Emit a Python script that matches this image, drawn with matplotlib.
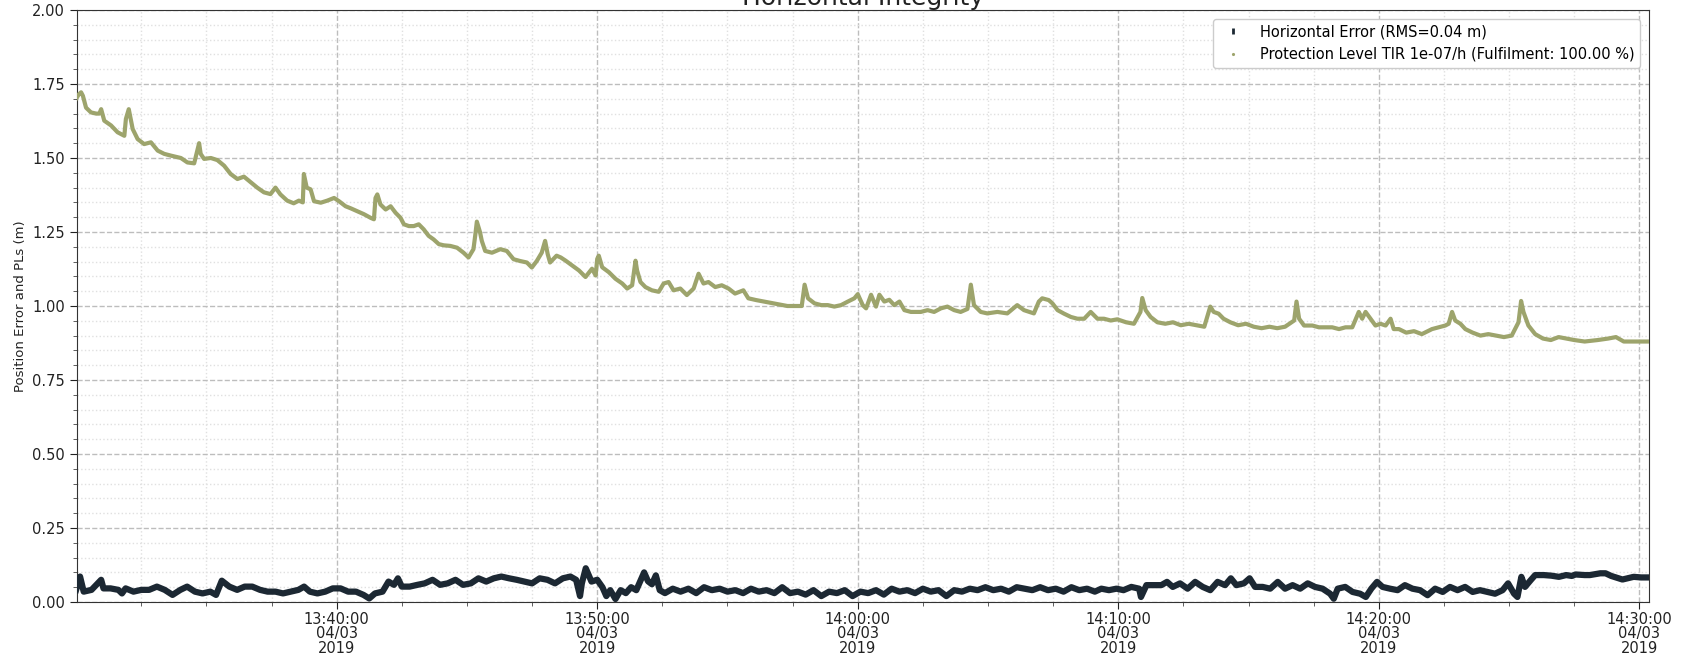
import datetime as dt
import numpy as np
import pandas as pd
import matplotlib
matplotlib.use("Agg")
import matplotlib.pyplot as plt
import matplotlib.dates as mdates
from matplotlib.ticker import MultipleLocator, AutoMinorLocator
from matplotlib.lines import Line2D

# minutes after 13:30:00 on 04/03/2019
pl_min = [0.00, 0.10, 0.19, 0.26, 0.38, 0.57, 0.77, 0.89, 0.96, 1.08, 1.34, 1.59, 1.85, 1.91,
          2.02, 2.17, 2.36, 2.61, 2.87, 3.13, 3.38, 3.64, 4.02, 4.27, 4.53, 4.72, 4.78, 4.91,
          5.17, 5.42, 5.68, 5.93, 6.19, 6.44, 6.70, 6.95, 7.21, 7.46, 7.65, 7.84, 8.10, 8.35,
          8.55, 8.70, 8.74, 8.85, 9.00, 9.13, 9.39, 9.64, 9.90, 10.09, 10.34, 10.54, 10.79,
          11.05, 11.30, 11.43, 11.49, 11.56, 11.68, 11.88, 12.07, 12.26, 12.45, 12.58, 12.77,
          12.96, 13.15, 13.34, 13.53, 13.72, 13.92, 14.11, 14.36, 14.62, 14.87, 15.06, 15.25,
          15.32, 15.38, 15.50, 15.57, 15.70, 15.96, 16.28, 16.53, 16.79, 17.04, 17.30, 17.49,
          17.68, 17.87, 18.00, 18.10, 18.19, 18.44, 18.60, 18.79, 19.04, 19.30, 19.55, 19.80,
          19.94, 20.00, 20.06, 20.19, 20.45, 20.70, 20.96, 21.15, 21.34, 21.47, 21.53, 21.66,
          21.85, 22.10, 22.36, 22.55, 22.74, 22.93, 23.19, 23.44, 23.70, 23.89, 24.08, 24.27,
          24.53, 24.78, 25.04, 25.29, 25.61, 25.80, 26.10, 26.40, 26.70, 27.00, 27.30, 27.60,
          27.85, 27.96, 28.09, 28.34, 28.60, 28.85, 29.10, 29.36, 29.62, 29.87, 30.00, 30.19,
          30.32, 30.51, 30.70, 30.83, 31.02, 31.21, 31.40, 31.60, 31.79, 32.04, 32.42, 32.68,
          32.93, 33.19, 33.44, 33.70, 33.95, 34.21, 34.34, 34.46, 34.72, 34.97, 35.36, 35.74,
          36.12, 36.38, 36.76, 36.95, 37.08, 37.33, 37.47, 37.67, 37.92, 38.18, 38.43, 38.69,
          38.94, 39.20, 39.45, 39.71, 39.96, 40.30, 40.60, 40.85, 40.92, 41.05, 41.24, 41.50,
          41.80, 42.10, 42.40, 42.70, 43.00, 43.30, 43.53, 43.66, 43.85, 44.04, 44.30, 44.60,
          44.90, 45.20, 45.50, 45.80, 46.10, 46.40, 46.75, 46.84, 46.94, 47.13, 47.45, 47.70,
          47.96, 48.21, 48.47, 48.72, 48.98, 49.23, 49.36, 49.49, 49.68, 49.87, 50.06, 50.26,
          50.45, 50.57, 50.77, 51.05, 51.35, 51.65, 52.04, 52.30, 52.55, 52.68, 52.81, 52.93,
          53.13, 53.32, 53.60, 53.90, 54.20, 54.50, 54.80, 55.10, 55.36, 55.46, 55.55, 55.74,
          56.00, 56.30, 56.60, 56.90, 57.20, 57.50, 57.90, 58.40, 58.80, 59.10, 59.40, 59.80,
          60.30]
pl_val = [1.700, 1.715, 1.722, 1.710, 1.670, 1.654, 1.650, 1.650, 1.665, 1.626, 1.610, 1.587, 1.575, 1.632,
          1.665, 1.598, 1.564, 1.547, 1.553, 1.525, 1.514, 1.508, 1.500, 1.485, 1.482, 1.550, 1.514, 1.497,
          1.500, 1.493, 1.474, 1.446, 1.429, 1.437, 1.418, 1.400, 1.384, 1.378, 1.400, 1.377, 1.356, 1.347,
          1.356, 1.350, 1.446, 1.400, 1.394, 1.354, 1.349, 1.356, 1.365, 1.354, 1.337, 1.330, 1.320,
          1.310, 1.298, 1.293, 1.365, 1.377, 1.343, 1.326, 1.337, 1.315, 1.298, 1.276, 1.270,
          1.270, 1.276, 1.259, 1.237, 1.225, 1.209, 1.205, 1.203, 1.197, 1.180, 1.164, 1.192,
          1.240, 1.285, 1.250, 1.220, 1.186, 1.180, 1.192, 1.186, 1.158, 1.152, 1.147, 1.130,
          1.152, 1.180, 1.220, 1.175, 1.147, 1.170, 1.164, 1.153, 1.137, 1.120, 1.098, 1.126,
          1.103, 1.159, 1.170, 1.131, 1.114, 1.092, 1.076, 1.059, 1.070, 1.153, 1.120, 1.081,
          1.064, 1.053, 1.048, 1.076, 1.081, 1.053, 1.059, 1.037, 1.059, 1.109, 1.076, 1.081,
          1.064, 1.070, 1.059, 1.042, 1.053, 1.026, 1.020, 1.015, 1.010, 1.005, 1.000, 1.000,
          1.000, 1.072, 1.026, 1.009, 1.003, 1.003, 0.998, 1.003, 1.015, 1.026, 1.040, 1.003,
          0.992, 1.038, 0.998, 1.038, 1.015, 1.021, 1.003, 1.015, 0.986, 0.980, 0.980, 0.986,
          0.980, 0.992, 0.998, 0.986, 0.980, 0.990, 1.072, 1.003, 0.980, 0.975, 0.980, 0.975,
          1.003, 0.986, 0.975, 1.015, 1.026, 1.020, 1.009, 0.986, 0.974, 0.963, 0.957, 0.957,
          0.980, 0.957, 0.957, 0.951, 0.955, 0.945, 0.940, 0.980, 1.027, 0.986, 0.963, 0.945,
          0.940, 0.945, 0.935, 0.940, 0.935, 0.930, 0.998, 0.980, 0.974, 0.957, 0.945, 0.935,
          0.940, 0.930, 0.925, 0.930, 0.925, 0.930, 0.951, 1.015, 0.957, 0.934, 0.934, 0.928,
          0.928, 0.928, 0.922, 0.928, 0.928, 0.980, 0.957, 0.980, 0.957, 0.934, 0.940, 0.934,
          0.957, 0.922, 0.922, 0.910, 0.915, 0.905, 0.922, 0.928, 0.934, 0.940, 0.980, 0.951,
          0.940, 0.922, 0.910, 0.900, 0.905, 0.900, 0.895, 0.900, 0.945, 1.017, 0.980, 0.934,
          0.905, 0.890, 0.885, 0.895, 0.890, 0.885, 0.880, 0.885, 0.890, 0.895, 0.880, 0.880,
          0.880]

err_min = [0.00, 0.15, 0.29, 0.59, 0.96, 1.05, 1.32, 1.62, 1.76, 1.90, 2.20, 2.50, 2.80, 3.10,
           3.40, 3.70, 4.00, 4.26, 4.56, 4.85, 5.15, 5.37, 5.59, 5.88, 6.18, 6.47, 6.76, 7.06,
           7.35, 7.65, 7.94, 8.24, 8.53, 8.75, 8.97, 9.26, 9.56, 9.85, 10.15, 10.44, 10.74,
           11.03, 11.25, 11.47, 11.76, 11.99, 12.20, 12.35, 12.50, 12.80, 13.10, 13.38, 13.68,
           13.97, 14.26, 14.56, 14.85, 15.15, 15.44, 15.74, 16.03, 16.32, 16.62, 16.91, 17.20,
           17.50, 17.79, 18.09, 18.38, 18.68, 18.97, 19.19, 19.34, 19.41, 19.56, 19.78, 20.00,
           20.20, 20.35, 20.50, 20.70, 20.90, 21.10, 21.30, 21.50, 21.70, 21.80, 21.95, 22.10,
           22.25, 22.40, 22.60, 22.90, 23.20, 23.50, 23.80, 24.10, 24.40, 24.70, 25.00, 25.30,
           25.60, 25.90, 26.20, 26.50, 26.80, 27.10, 27.40, 27.70, 28.00, 28.30, 28.60, 28.90,
           29.20, 29.50, 29.80, 30.10, 30.40, 30.70, 31.00, 31.30, 31.60, 31.90, 32.20, 32.50,
           32.80, 33.10, 33.40, 33.70, 34.00, 34.30, 34.60, 34.90, 35.20, 35.50, 35.80, 36.10,
           36.40, 36.70, 37.00, 37.30, 37.60, 37.90, 38.20, 38.50, 38.80, 39.10, 39.35, 39.64,
           39.93, 40.20, 40.50, 40.80, 40.87, 41.08, 41.37, 41.65, 41.87, 42.09, 42.37, 42.66,
           42.95, 43.24, 43.53, 43.81, 44.10, 44.32, 44.53, 44.82, 45.04, 45.25, 45.54, 45.83,
           46.12, 46.40, 46.69, 46.98, 47.27, 47.55, 47.84, 48.13, 48.27, 48.42, 48.71, 48.99,
           49.28, 49.50, 49.71, 49.93, 50.14, 50.43, 50.72, 51.00, 51.29, 51.58, 51.87, 52.16,
           52.45, 52.73, 53.02, 53.31, 53.60, 53.88, 54.17, 54.46, 54.75, 54.96, 55.19, 55.32,
           55.47, 55.61, 55.83, 56.00, 56.33, 56.62, 56.91, 57.19, 57.41, 57.55, 57.90, 58.10,
           58.50, 58.70, 58.92, 59.20, 59.35, 59.78, 60.07, 60.36]
err_val = [0.041, 0.086, 0.035, 0.041, 0.075, 0.046, 0.046, 0.041, 0.029, 0.046, 0.035, 0.041, 0.041, 0.052,
           0.041, 0.024, 0.041, 0.052, 0.035, 0.029, 0.035, 0.024, 0.072, 0.052, 0.041, 0.052, 0.052, 0.041,
           0.035, 0.035, 0.029, 0.035, 0.041, 0.052, 0.035, 0.029, 0.035, 0.046, 0.046, 0.035, 0.035,
           0.024, 0.012, 0.029, 0.035, 0.069, 0.058, 0.080, 0.052, 0.052, 0.058, 0.063, 0.075,
           0.058, 0.063, 0.075, 0.058, 0.063, 0.080, 0.069, 0.080, 0.086, 0.080, 0.075, 0.069,
           0.063, 0.080, 0.075, 0.063, 0.080, 0.086, 0.075, 0.020, 0.063, 0.114, 0.069, 0.075,
           0.050, 0.020, 0.040, 0.010, 0.040, 0.030, 0.050, 0.040, 0.080, 0.100, 0.070, 0.060,
           0.090, 0.040, 0.030, 0.045, 0.035, 0.045, 0.030, 0.050, 0.040, 0.045, 0.035, 0.040,
           0.030, 0.045, 0.035, 0.040, 0.030, 0.050, 0.030, 0.035, 0.025, 0.040, 0.020, 0.035,
           0.030, 0.040, 0.020, 0.035, 0.030, 0.040, 0.025, 0.045, 0.035, 0.040, 0.030, 0.045,
           0.035, 0.040, 0.020, 0.040, 0.035, 0.045, 0.040, 0.050, 0.040, 0.045, 0.035, 0.050,
           0.045, 0.040, 0.050, 0.040, 0.045, 0.035, 0.050, 0.040, 0.045, 0.035, 0.045, 0.040,
           0.045, 0.040, 0.051, 0.045, 0.017, 0.057, 0.057, 0.057, 0.068, 0.051, 0.063, 0.045,
           0.068, 0.051, 0.040, 0.068, 0.057, 0.080, 0.057, 0.063, 0.080, 0.051, 0.051, 0.045,
           0.068, 0.045, 0.057, 0.045, 0.063, 0.051, 0.045, 0.028, 0.011, 0.045, 0.051, 0.034,
           0.028, 0.017, 0.045, 0.068, 0.051, 0.045, 0.040, 0.057, 0.045, 0.040, 0.023, 0.045,
           0.034, 0.051, 0.040, 0.051, 0.034, 0.040, 0.034, 0.028, 0.040, 0.063, 0.028, 0.017,
           0.085, 0.051, 0.074, 0.091, 0.091, 0.089, 0.085, 0.091, 0.088, 0.093, 0.091, 0.091,
           0.097, 0.097, 0.088, 0.080, 0.076, 0.085, 0.083, 0.083]

start = dt.datetime(2019, 3, 4, 13, 30, 2)
end = dt.datetime(2019, 3, 4, 14, 30, 22)
t0 = dt.datetime(2019, 3, 4, 13, 30, 0)

pl_t = t0 + pd.to_timedelta(pl_min, unit="m")
err_t = t0 + pd.to_timedelta(err_min, unit="m")

col_err = "#1c2833"
col_pl = "#9da46c"

fig = plt.figure(figsize=(16.85, 6.58), dpi=100)
ax = fig.add_axes([0.0457, 0.0851, 0.9329, 0.8997])

ax.plot(err_t, err_val, color=col_err, lw=4.5, zorder=3)
ax.plot(pl_t, pl_val, color=col_pl, lw=3.0, zorder=3)

ax.set_xlim(start, end)
ax.set_ylim(0, 2.0)

ax.xaxis.set_major_locator(mdates.MinuteLocator(byminute=[0, 10, 20, 30, 40, 50]))
ax.xaxis.set_minor_locator(AutoMinorLocator(4))
ax.xaxis.set_major_formatter(mdates.DateFormatter("%H:%M:%S\n%d/%m\n%Y"))
ax.yaxis.set_major_locator(MultipleLocator(0.25))
ax.yaxis.set_minor_locator(MultipleLocator(0.05))
ax.yaxis.set_major_formatter(plt.FormatStrFormatter("%.2f"))

ax.grid(which="major", ls="--", color="#bdbdbd", lw=1.0)
ax.grid(which="minor", ls=":", color="#e0e0e0", lw=1.0)
ax.set_axisbelow(True)

ax.tick_params(which="major", direction="out", length=5, labelsize=10.5, colors="#222222")
ax.tick_params(axis="x", which="major", pad=2)
ax.tick_params(which="minor", direction="out", length=3, colors="#444444")
for tk in ax.xaxis.get_major_ticks():
    tk.label1.set_linespacing(0.95)
    tk.label1.set_horizontalalignment("center")
for s in ax.spines.values():
    s.set_color("#333333")

ax.set_ylabel("Position Error and PLs (m)", fontsize=9.5, color="#222222")

fig.text(0.512, 0.992, "Horizontal Integrity", ha="center", va="baseline",
         fontsize=18, color="#222222")

handles = [Line2D([], [], ls="none", marker="|", ms=5, mew=2, color=col_err),
           Line2D([], [], ls="none", marker=".", ms=2.5, color=col_pl)]
labels = ["Horizontal Error (RMS=0.04 m)",
          "Protection Level TIR 1e-07/h (Fulfilment: 100.00 %)"]
ax.legend(handles, labels, loc="upper right", fontsize=10.5, frameon=True,
          edgecolor="#cccccc", framealpha=1.0, borderaxespad=0.6)

fig.savefig("out.png", dpi=100)
